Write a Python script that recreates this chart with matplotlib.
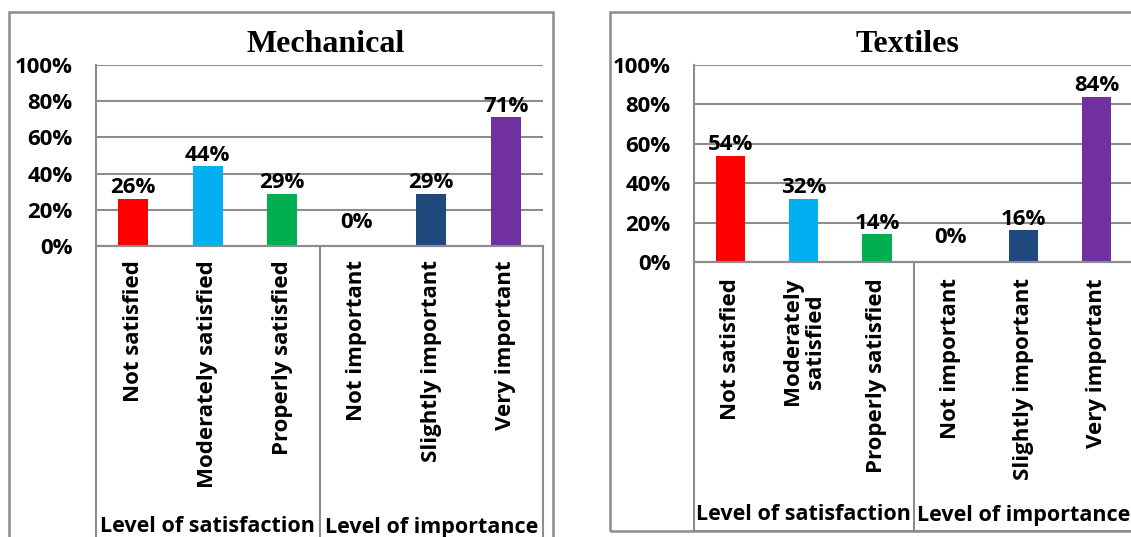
import matplotlib
matplotlib.use("Agg")
import matplotlib.pyplot as plt
from matplotlib.patches import Rectangle

# datos
categorias_mec = ["Not satisfied", "Moderately satisfied", "Properly satisfied",
                  "Not important", "Slightly important", "Very important"]
valores_mec = [26, 44, 29, 0, 29, 71]

categorias_tex = ["Not satisfied", "Moderately\nsatisfied", "Properly satisfied",
                  "Not important", "Slightly important", "Very important"]
valores_tex = [54, 32, 14, 0, 16, 84]

grupos = ["Level of satisfaction", "Level of importance"]
colores = ["#FF0000", "#00B0F0", "#00B050", "#FFFFFF", "#1F497D", "#7030A0"]
yticks = [0, 20, 40, 60, 80, 100]

W, H = 1131, 537
GRIS = "#8C8C8C"
FUENTE = "Open Sans"
TAM = 16


def caja(x0, y0, x1, y1):
    # pixeles (origen arriba-izquierda) -> coordenadas de figura
    return [x0 / W, 1 - y1 / H, (x1 - x0) / W, (y1 - y0) / H]


def panel(fig, borde, plot, lab_y1, titulo, x_titulo, cats, vals, top_lab, y_grupo, dy_cero):
    bx0, by0, bx1, by1 = borde
    fig.patches.append(Rectangle((bx0 / W, 1 - by1 / H), (bx1 - bx0) / W, (by1 - by0) / H,
                                 transform=fig.transFigure, fill=False,
                                 edgecolor=GRIS, lw=1.8, clip_on=False))
    px0, py0, px1, py1 = plot

    ax = fig.add_axes(caja(px0, py0, px1, py1))
    x = list(range(len(vals)))
    ax.bar(x, vals, width=0.4, color=colores, zorder=3)
    ax.set_xlim(-0.5, len(vals) - 0.5)
    ax.set_ylim(0, 100)
    ax.set_yticks(yticks)
    ax.set_yticklabels([f"{t}%" for t in yticks], fontsize=TAM, fontweight="bold",
                       family=FUENTE)
    ax.set_xticks([])
    ax.tick_params(axis="y", length=0, pad=17)
    ax.yaxis.grid(True, color=GRIS, lw=1.5, zorder=0)
    ax.set_axisbelow(True)
    for s in ["top", "right"]:
        ax.spines[s].set_visible(False)
    for s in ["left", "bottom"]:
        ax.spines[s].set_color(GRIS)
        ax.spines[s].set_linewidth(1.5)

    # etiquetas de valor encima de cada barra
    for i, v in enumerate(vals):
        ax.annotate(f"{v}%", (i, v), xytext=(0, 4 if v else dy_cero),
                    textcoords="offset points", ha="center", va="baseline",
                    fontsize=TAM, fontweight="bold", family=FUENTE, zorder=4)

    fig.text(x_titulo / W, 1 - 44 / H, titulo, ha="center", va="center",
             fontsize=23, fontweight="bold", family="Liberation Serif")

    # zona de etiquetas de categoria
    lab = fig.add_axes(caja(px0, py1, px1, lab_y1))
    lab.set_xlim(-0.5, len(vals) - 0.5)
    lab.set_ylim(lab_y1 - py1, 0)
    lab.set_xticks([])
    lab.set_yticks([])
    lab.patch.set_alpha(0)
    for s in lab.spines.values():
        s.set_color(GRIS)
        s.set_linewidth(1.5)
    lab.axvline(2.5, color=GRIS, lw=1.5)
    for i, c in enumerate(cats):
        lab.text(i, top_lab, c, rotation=90, ha="center", va="top",
                 multialignment="center", fontsize=TAM, fontweight="bold",
                 family=FUENTE, linespacing=1.15)
    for j, g in enumerate(grupos):
        lab.text(1 + 3 * j, y_grupo, g, ha="center", va="center",
                 fontsize=15.5, fontweight="bold", family=FUENTE)
    return ax


fig = plt.figure(figsize=(W / 100, H / 100), dpi=100)

panel(fig, (9, 12, 553, 560), (96, 65, 543, 246), 560, "Mechanical", 326,
      categorias_mec, valores_mec, 14, 527 - 246, 13)
panel(fig, (610, 12, 1150, 531), (694, 65, 1133, 262), 531, "Textiles", 907,
      categorias_tex, valores_tex, 16, 515 - 262, 14)

fig.savefig("out.png", dpi=100)
